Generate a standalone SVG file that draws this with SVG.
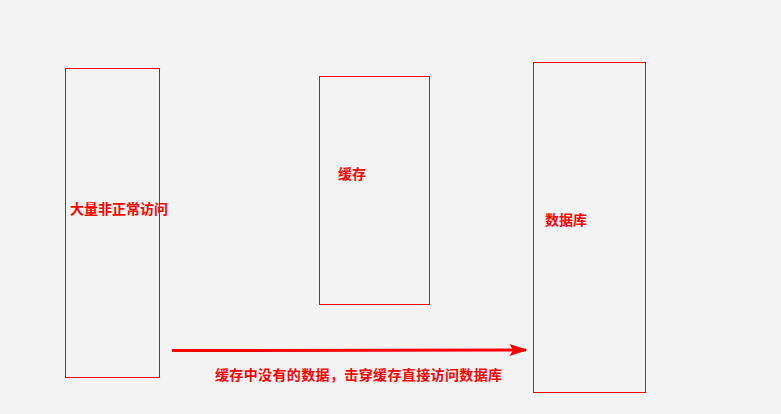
<svg xmlns="http://www.w3.org/2000/svg" width="781" height="414" viewBox="0 0 781 414">
<style>
.box{fill:none;stroke:#ff0000;stroke-width:1}
.lbl{font-family:"Liberation Sans","Noto Sans CJK SC",sans-serif;font-size:14px;font-weight:bold;fill:#ff0000}
.conn{stroke:#ff0000;stroke-width:3;fill:none}
</style>
<defs>
<marker id="arr" markerWidth="6" markerHeight="4" refX="5.5" refY="2" orient="auto" markerUnits="strokeWidth">
<path d="M0,0 L6,2 L0,4 L1.2,2 Z" fill="#ff0000"/>
</marker>
</defs>
<rect width="781" height="414" fill="#f4f4f4"/>
<g id="node-access">
<rect class="box" x="65.5" y="68.5" width="94" height="309"/>
<text class="lbl" x="70" y="214">大量非正常访问</text>
</g>
<g id="node-cache">
<rect class="box" x="319.5" y="76.5" width="110" height="228"/>
<text class="lbl" x="338" y="179">缓存</text>
</g>
<g id="node-db">
<rect class="box" x="533.5" y="62.5" width="112" height="330"/>
<text class="lbl" x="545" y="225">数据库</text>
</g>
<g id="connectors">
<line class="conn" x1="172" y1="350.5" x2="526" y2="350" marker-end="url(#arr)"/>
<text class="lbl" x="215" y="380" textLength="287" lengthAdjust="spacing">缓存中没有的数据，击穿缓存直接访问数据库</text>
</g>
</svg>
